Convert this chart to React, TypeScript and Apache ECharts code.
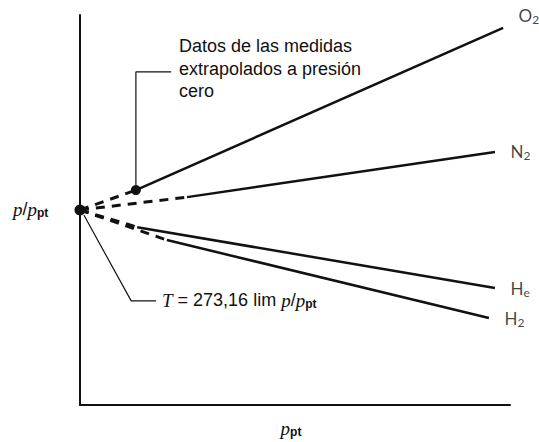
import { useEffect, useRef } from "react";
import * as echarts from "echarts";

// Gases and their measured (solid) segments, extrapolated (dashed) to p_pt = 0
const gases = ["O2", "N2", "He", "H2"];
const gasLabels = ["O{s|2}", "N{s|2}", "H{s|e}", "H{s|2}"];
const interceptX = 0;
const interceptY = 50;
const measuredStartX = [13.0, 24.9, 13.3, 20.2];
const measuredStartY = [55.1, 53.3, 45.6, 42.3];
const measuredEndX = [98.4, 96.5, 96.5, 95.1];
const measuredEndY = [96.7, 64.9, 30.0, 22.3];
const labelOffsetY = [-12, 0, 0, 0];

// annotation leader lines (data coordinates)
const topLeader = [
  [13.0, 55.1],
  [13.0, 85.4],
  [21.2, 85.4],
];
const bottomLeader = [
  [0.9, 48.7],
  [11.9, 26.7],
  [17.7, 26.7],
];
const topNote = "Datos de las medidas\nextrapolados a presión\ncero";

const INK = "#111";

export default function App() {
  const ref = useRef<HTMLDivElement>(null);
  useEffect(() => {
    if (!ref.current) return;
    const chart = echarts.init(ref.current, undefined, { renderer: "svg" });
    const series: any[] = [];
    gases.forEach((g, i) => {
      series.push({
        name: g + " extrapolado",
        type: "line",
        symbol: "none",
        silent: true,
        lineStyle: { color: INK, width: 3, type: [9, 7], cap: "butt" },
        data: [
          [interceptX, interceptY],
          [measuredStartX[i], measuredStartY[i]],
        ],
      });
      series.push({
        name: g,
        type: "line",
        symbol: "none",
        silent: true,
        lineStyle: { color: INK, width: 2.5 },
        data: [
          [measuredStartX[i], measuredStartY[i]],
          [measuredEndX[i], measuredEndY[i]],
        ],
      });
    });
    // gas labels at the end of each measured line
    series.push({
      type: "scatter",
      symbolSize: 1,
      silent: true,
      itemStyle: { color: "rgba(0,0,0,0)" },
      label: {
        show: true,
        position: "right",
        distance: 15,
        color: INK,
        fontFamily: "Lato",
        fontSize: 17,
        lineHeight: 20,
        rich: {
          s: {
            fontFamily: "Lato",
            fontSize: 12,
            lineHeight: 2,
            verticalAlign: "bottom",
            color: INK,
          },
        },
      },
      data: gases.map((g, i) => ({
        name: g,
        value: [measuredEndX[i], measuredEndY[i]],
        label: {
          offset: [0, labelOffsetY[i]],
          formatter: gasLabels[i],
        },
      })),
    });
    series.push({
      type: "line",
      symbol: "none",
      silent: true,
      lineStyle: { color: INK, width: 1.2 },
      data: topLeader,
    });
    series.push({
      type: "line",
      symbol: "none",
      silent: true,
      lineStyle: { color: INK, width: 1.2 },
      data: bottomLeader,
    });
    series.push({
      type: "scatter",
      symbolSize: 11,
      silent: true,
      itemStyle: { color: INK, opacity: 1 },
      data: [[interceptX, interceptY]],
    });
    series.push({
      type: "scatter",
      symbolSize: 10,
      silent: true,
      itemStyle: { color: INK, opacity: 1 },
      data: [[measuredStartX[0], measuredStartY[0]]],
    });

    const italic = {
      fontFamily: "Liberation Serif",
      fontStyle: "italic",
      fontSize: 19,
      fill: INK,
    };
    const sub = {
      fontFamily: "Liberation Sans",
      fontWeight: "bold",
      fontSize: 12,
      fill: INK,
      lineHeight: 6,
      verticalAlign: "bottom",
    };

    chart.setOption({
      animation: false,
      backgroundColor: "#fff",
      grid: { left: 80, right: 29, top: 15, bottom: 37 },
      xAxis: {
        type: "value",
        min: 0,
        max: 100,
        axisLine: { show: true, onZero: false, lineStyle: { color: INK, width: 2 } },
        axisTick: { show: false },
        axisLabel: { show: false },
        splitLine: { show: false },
      },
      yAxis: {
        type: "value",
        min: 0,
        max: 100,
        axisLine: { show: true, onZero: false, lineStyle: { color: INK, width: 2 } },
        axisTick: { show: false },
        axisLabel: { show: false },
        splitLine: { show: false },
      },
      series,
      graphic: [
        {
          type: "text",
          x: 179,
          y: 35,
          style: {
            text: topNote,
            fontFamily: "Liberation Sans",
            fontSize: 18,
            lineHeight: 22.5,
            fill: INK,
          },
        },
        {
          type: "text",
          x: 162,
          y: 300,
          style: {
            text: "{i|T} = 273,16 lim {i|p}/{i|p}{s|pt}",
            fontFamily: "Liberation Sans",
            fontSize: 18,
            lineHeight: 20,
            fill: INK,
            verticalAlign: "middle",
            rich: { i: italic, s: sub },
          },
        },
        {
          type: "text",
          x: 13,
          y: 209,
          style: {
            text: "{i|p}/{i|p}{s|pt}",
            fontFamily: "Liberation Sans",
            fontSize: 18,
            lineHeight: 20,
            fill: INK,
            verticalAlign: "middle",
            rich: { i: italic, s: sub },
          },
        },
        {
          type: "text",
          x: 291,
          y: 428,
          style: {
            text: "{i|p}{s|pt}",
            fontFamily: "Liberation Sans",
            fontSize: 18,
            lineHeight: 20,
            fill: INK,
            align: "center",
            verticalAlign: "middle",
            rich: { i: italic, s: sub },
          },
        },
      ],
    });
    return () => chart.dispose();
  }, []);
  return (
    <div
      ref={ref}
      style={{ position: "fixed", left: 0, top: 0, width: 539, height: 442 }}
    />
  );
}
